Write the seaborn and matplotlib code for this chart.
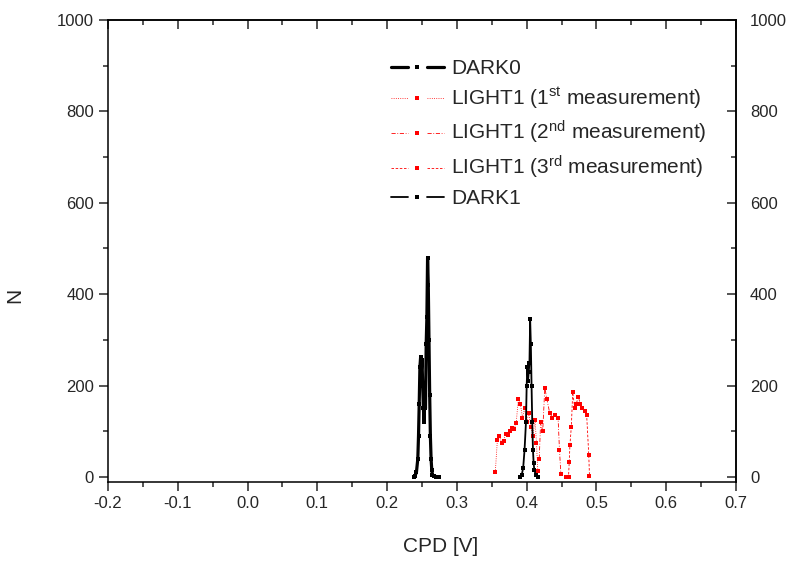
import matplotlib
matplotlib.use("Agg")
import matplotlib.pyplot as plt
from matplotlib.lines import Line2D
from matplotlib.legend_handler import HandlerLine2D
from matplotlib.ticker import MultipleLocator
import seaborn as sns

# CPD histograms: DARK0 (before illumination), three LIGHT1 runs, DARK1 (after)
dark0_cpd = [0.238, 0.240, 0.242, 0.244, 0.245, 0.246, 0.247, 0.248, 0.249, 0.250,
             0.251, 0.252, 0.253, 0.254, 0.255, 0.256, 0.257, 0.258, 0.259, 0.260,
             0.261, 0.262, 0.263, 0.264, 0.265, 0.267, 0.270, 0.275]
dark0_n = [0, 3, 10, 40, 90, 160, 240, 262, 230, 255,
           200, 150, 120, 175, 150, 290, 350, 480, 420, 300,
           180, 90, 40, 15, 5, 2, 1, 0]

light1_cpd = [0.355, 0.358, 0.361, 0.364, 0.367, 0.370, 0.373, 0.376, 0.379, 0.382,
              0.385, 0.388, 0.391, 0.394, 0.397, 0.400, 0.403, 0.406, 0.409, 0.412,
              0.414, 0.416]
light1_n = [10, 80, 90, 74, 79, 95, 92, 100, 108, 105,
            118, 170, 160, 130, 150, 120, 140, 110, 90, 125,
            75, 12]

light2_cpd = [0.418, 0.420, 0.423, 0.426, 0.429, 0.433, 0.437, 0.441, 0.445, 0.447,
              0.449]
light2_n = [40, 120, 100, 195, 170, 140, 130, 135, 130, 60,
            7]

light3_cpd = [0.457, 0.460, 0.461, 0.462, 0.464, 0.466, 0.469, 0.471, 0.474, 0.477,
              0.480, 0.483, 0.486, 0.489, 0.490]
light3_n = [1, 1, 33, 70, 110, 185, 150, 160, 175, 160,
            150, 145, 135, 48, 3]

dark1_cpd = [0.390, 0.393, 0.395, 0.397, 0.399, 0.400, 0.401, 0.402, 0.403, 0.404,
             0.405, 0.406, 0.407, 0.408, 0.409, 0.410, 0.411, 0.413, 0.416]
dark1_n = [0, 5, 20, 60, 120, 200, 240, 210, 230, 250,
           345, 290, 200, 120, 60, 30, 15, 5, 0]

x_ticks = [-0.2, -0.1, 0.0, 0.1, 0.2, 0.3, 0.4, 0.5, 0.6, 0.7]
y_ticks = [0, 200, 400, 600, 800, 1000]


class GapLineHandler(HandlerLine2D):
    """Legend key drawn as line - symbol - line, with the line broken around the symbol."""

    def create_artists(self, legend, orig_handle, xdescent, ydescent,
                       width, height, fontsize, trans):
        y = height / 2 - ydescent
        x0 = -xdescent
        gap = 0.18 * width
        left = Line2D([x0, x0 + width / 2 - gap], [y, y])
        right = Line2D([x0 + width / 2 + gap, x0 + width], [y, y])
        mark = Line2D([x0 + width / 2], [y])
        for seg in (left, right):
            self.update_prop(seg, orig_handle, legend)
            seg.set_marker("None")
        self.update_prop(mark, orig_handle, legend)
        mark.set_linestyle("None")
        for art in (left, right, mark):
            art.set_transform(trans)
        return [left, right, mark]


sns.set_style("ticks")
plt.rcParams["font.family"] = ["Liberation Sans", "DejaVu Sans"]
plt.rcParams["mathtext.fontset"] = "custom"
plt.rcParams["mathtext.rm"] = "Liberation Sans"
plt.rcParams["mathtext.it"] = "Liberation Sans:italic"
plt.rcParams["axes.linewidth"] = 1.1
plt.rcParams["axes.edgecolor"] = "black"

fig = plt.figure(figsize=(7.9, 5.61), dpi=100)
ax = fig.add_axes([108 / 790, 1 - 482 / 561, (736 - 108) / 790, (482 - 20) / 561])

red = "#ff0000"
sns.lineplot(x=dark0_cpd, y=dark0_n, ax=ax, sort=False, estimator=None,
             color="black", linewidth=2.3, linestyle="-",
             marker="s", markersize=2.5, markeredgewidth=0, label="DARK0")
sns.lineplot(x=light1_cpd, y=light1_n, ax=ax, sort=False, estimator=None,
             color=red, linewidth=0.6, linestyle=":",
             marker="s", markersize=3.4, markeredgewidth=0,
             label=r"LIGHT1 (1$^{\mathrm{st}}$ measurement)")
sns.lineplot(x=light2_cpd, y=light2_n, ax=ax, sort=False, estimator=None,
             color=red, linewidth=0.6, linestyle=(0, (5, 2, 1, 2)),
             marker="s", markersize=3.4, markeredgewidth=0,
             label=r"LIGHT1 (2$^{\mathrm{nd}}$ measurement)")
sns.lineplot(x=light3_cpd, y=light3_n, ax=ax, sort=False, estimator=None,
             color=red, linewidth=0.6, linestyle=(0, (3, 2)),
             marker="s", markersize=3.4, markeredgewidth=0,
             label=r"LIGHT1 (3$^{\mathrm{rd}}$ measurement)")
sns.lineplot(x=dark1_cpd, y=dark1_n, ax=ax, sort=False, estimator=None,
             color="black", linewidth=1.3, linestyle="-",
             marker="s", markersize=3.0, markeredgewidth=0, label="DARK1")

ax.set_xlim(-0.2, 0.7)
ax.set_ylim(-11, 1000)
ax.set_xticks(x_ticks)
ax.set_xticklabels([f"{v:.1f}" for v in x_ticks])
ax.set_yticks(y_ticks)
ax.xaxis.set_minor_locator(MultipleLocator(0.05))
ax.yaxis.set_minor_locator(MultipleLocator(100))
ax.tick_params(which="both", direction="out", width=1.1, labelsize=12,
               top=False, right=False)
ax.tick_params(which="major", length=6.5)
ax.tick_params(which="minor", length=3.5)
ax.set_xlabel("CPD [V]", fontsize=15)
ax.set_ylabel("N", fontsize=15)
ax.xaxis.set_label_coords(0.529, -0.119)
ax.yaxis.set_label_coords(-0.134, 0.405)

# mirrored axes: inward ticks on top, labelled inward ticks on the right
top = ax.secondary_xaxis("top")
top.set_xticks(x_ticks)
top.xaxis.set_minor_locator(MultipleLocator(0.05))
top.tick_params(which="both", direction="in", width=1.1, labeltop=False)
top.tick_params(which="major", length=6.5)
top.tick_params(which="minor", length=3.5)

right = ax.secondary_yaxis("right")
right.set_yticks(y_ticks)
right.yaxis.set_minor_locator(MultipleLocator(100))
right.tick_params(which="both", direction="in", width=1.1, labelsize=12, pad=10)
right.tick_params(which="major", length=6.5)
right.tick_params(which="minor", length=3.5)

handles, labels = ax.get_legend_handles_labels()
leg = ax.legend(handles, labels, loc="upper left", bbox_to_anchor=(0.437, 0.934),
                frameon=False, fontsize=15, handlelength=2.55, handletextpad=0.35,
                labelspacing=0.38, numpoints=1, borderaxespad=0,
                handler_map={Line2D: GapLineHandler()})

fig.savefig("out.png", dpi=100)
